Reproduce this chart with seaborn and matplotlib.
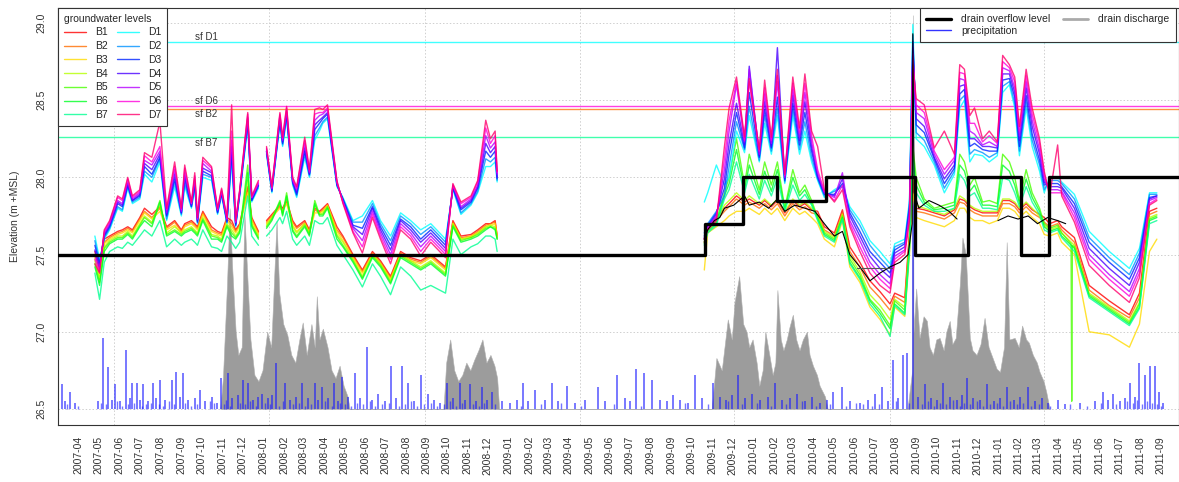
import numpy as np
import pandas as pd
import matplotlib
matplotlib.use("Agg")
import matplotlib.pyplot as plt
from matplotlib.lines import Line2D
import seaborn as sns

# ---------------- data ----------------
wells_B = ["B1", "B2", "B3", "B4", "B5", "B6", "B7"]
wells_D = ["D1", "D2", "D3", "D4", "D5", "D6", "D7"]

# manual measurements 2007-2008 (a gap around new year 2008)
p1_dates = ["2007-04-25","2007-05-02","2007-05-09","2007-05-17","2007-05-29","2007-06-05","2007-06-13","2007-06-20","2007-07-01","2007-07-08",
            "2007-07-19","2007-07-31","2007-08-10","2007-08-22","2007-09-01","2007-09-06","2007-09-16","2007-09-21","2007-09-25","2007-10-03",
            "2007-10-16","2007-10-25","2007-10-31","2007-11-08","2007-11-15","2007-11-21","2007-11-27","2007-12-09","2007-12-15","2007-12-25",
            "2008-01-06","2008-01-14","2008-01-26","2008-01-30","2008-02-05","2008-02-14","2008-02-20","2008-03-03","2008-03-10","2008-03-18",
            "2008-03-25","2008-03-30","2008-04-06","2008-04-20","2008-04-29","2008-05-14","2008-05-28","2008-06-12","2008-06-24","2008-07-09",
            "2008-07-24","2008-08-08","2008-08-23","2008-09-07","2008-09-29","2008-10-10","2008-10-22","2008-11-06","2008-11-16","2008-11-28",
            "2008-12-05","2008-12-12","2008-12-15"]
p1_break_after = 30

D1_p1 = [27.62,27.47,27.60,27.66,27.80,27.78,27.93,27.83,27.86,28.02, 27.97,28.10,27.72,27.94,27.75,27.94,27.80,27.92,27.70,28.00,
         27.98,27.76,27.88,27.70,28.10,27.68,27.88,28.33,27.84,27.93, 28.15,27.90,28.35,28.20,28.38,27.95,27.87,28.13,28.00,28.24,
         28.30,28.35,28.38,27.94,27.87,27.72,27.75,27.85,27.72,27.62, 27.77,27.72,27.66,27.70,27.60,27.92,27.76,27.82,27.90,28.07,
         28.07,28.10,27.97]
D2_p1 = [27.59,27.45,27.61,27.67,27.81,27.79,27.94,27.84,27.87,28.04, 28.00,28.12,27.73,27.97,27.76,27.96,27.81,27.94,27.71,28.02,
         28.00,27.77,27.89,27.71,28.13,27.69,27.89,28.35,27.85,27.94, 28.16,27.91,28.36,28.21,28.39,27.96,27.88,28.15,28.01,28.27,
         28.32,28.36,28.39,27.95,27.86,27.71,27.71,27.83,27.70,27.59, 27.75,27.70,27.63,27.68,27.58,27.93,27.77,27.83,27.91,28.12,
         28.10,28.13,27.98]
D3_p1 = [27.56,27.44,27.62,27.68,27.83,27.81,27.95,27.85,27.88,28.07, 28.02,28.13,27.75,27.99,27.77,27.99,27.81,27.96,27.71,28.04,
         28.01,27.77,27.90,27.71,28.16,27.69,27.89,28.36,27.85,27.95, 28.17,27.91,28.37,28.22,28.41,27.97,27.89,28.17,28.02,28.31,
         28.35,28.38,28.41,27.95,27.86,27.69,27.67,27.81,27.68,27.56, 27.73,27.68,27.60,27.66,27.56,27.93,27.79,27.84,27.93,28.17,
         28.13,28.17,27.99]
D4_p1 = [27.53,27.42,27.63,27.69,27.84,27.82,27.96,27.85,27.89,28.09, 28.05,28.15,27.76,28.02,27.77,28.01,27.82,27.97,27.72,28.06,
         28.03,27.78,27.90,27.72,28.20,27.70,27.90,28.38,27.86,27.95, 28.17,27.92,28.38,28.23,28.42,27.97,27.90,28.19,28.02,28.34,
         28.37,28.39,28.42,27.96,27.85,27.68,27.63,27.80,27.66,27.53, 27.72,27.66,27.58,27.64,27.54,27.94,27.80,27.85,27.94,28.22,
         28.16,28.20,28.00]
D5_p1 = [27.50,27.41,27.64,27.70,27.85,27.83,27.97,27.86,27.90,28.11, 28.08,28.17,27.77,28.05,27.78,28.03,27.83,27.99,27.73,28.09,
         28.04,27.79,27.91,27.73,28.24,27.71,27.91,28.39,27.87,27.96, 28.18,27.93,28.40,28.24,28.43,27.98,27.92,28.22,28.03,28.37,
         28.40,28.41,28.44,27.97,27.84,27.67,27.59,27.78,27.64,27.50, 27.70,27.64,27.55,27.62,27.52,27.95,27.81,27.86,27.95,28.27,
         28.19,28.23,28.02]
D6_p1 = [27.47,27.39,27.65,27.71,27.87,27.85,27.99,27.87,27.91,28.14, 28.10,28.20,27.79,28.07,27.79,28.06,27.83,28.01,27.73,28.11,
         28.06,27.79,27.92,27.73,28.30,27.71,27.91,28.41,27.87,27.97, 28.19,27.93,28.41,28.25,28.45,27.99,27.93,28.24,28.04,28.41,
         28.42,28.42,28.45,27.97,27.84,27.65,27.55,27.76,27.62,27.47, 27.68,27.62,27.52,27.60,27.50,27.95,27.83,27.87,27.97,28.32,
         28.22,28.27,28.03]
D7_p1 = [27.44,27.38,27.66,27.72,27.88,27.86,28.00,27.88,27.92,28.16, 28.13,28.36,27.80,28.10,27.80,28.08,27.84,28.03,27.74,28.13,
         28.07,27.80,27.93,27.74,28.47,27.72,27.92,28.42,27.88,27.98, 28.20,27.94,28.42,28.26,28.46,28.00,27.94,28.26,28.05,28.44,
         28.45,28.44,28.47,27.98,27.83,27.64,27.51,27.74,27.60,27.44, 27.66,27.60,27.49,27.58,27.48,27.96,27.84,27.88,27.98,28.37,
         28.25,28.30,28.04]
B1_p1 = [27.52,27.40,27.60,27.62,27.65,27.66,27.68,27.66,27.74,27.80, 27.76,27.81,27.68,27.72,27.66,27.70,27.72,27.70,27.68,27.78,
         27.68,27.65,27.64,27.74,27.72,27.66,27.70,27.94,27.74,27.65, 27.72,27.76,27.82,27.80,27.85,27.72,27.68,27.72,27.66,27.80,
         27.78,27.80,27.83,27.68,27.62,27.50,27.40,27.52,27.46,27.36, 27.52,27.48,27.46,27.50,27.42,27.72,27.62,27.63,27.66,27.70,
         27.70,27.72,27.62]
B2_p1 = [27.50,27.38,27.58,27.61,27.64,27.65,27.67,27.65,27.73,27.78, 27.74,27.80,27.67,27.71,27.65,27.69,27.71,27.69,27.67,27.77,
         27.66,27.64,27.63,27.73,27.70,27.65,27.69,27.92,27.73,27.64, 27.71,27.75,27.81,27.79,27.84,27.71,27.67,27.71,27.65,27.79,
         27.77,27.79,27.82,27.66,27.61,27.49,27.39,27.51,27.45,27.35, 27.51,27.47,27.45,27.49,27.41,27.71,27.61,27.62,27.65,27.69,
         27.70,27.71,27.62]
B3_p1 = [27.48,27.36,27.57,27.60,27.63,27.64,27.66,27.64,27.72,27.77, 27.73,27.78,27.66,27.69,27.64,27.68,27.70,27.68,27.66,27.76,
         27.65,27.63,27.62,27.72,27.68,27.64,27.68,27.90,27.72,27.63, 27.70,27.74,27.80,27.78,27.83,27.69,27.65,27.70,27.64,27.77,
         27.77,27.78,27.82,27.65,27.59,27.48,27.38,27.50,27.44,27.34, 27.50,27.46,27.44,27.48,27.40,27.70,27.60,27.62,27.64,27.68,
         27.69,27.70,27.61]
B4_p1 = [27.46,27.34,27.55,27.59,27.62,27.62,27.65,27.62,27.70,27.75, 27.71,27.82,27.64,27.68,27.64,27.66,27.68,27.66,27.64,27.74,
         27.63,27.62,27.60,27.70,27.66,27.62,27.66,27.98,27.70,27.62, 27.69,27.74,27.83,27.77,27.87,27.68,27.64,27.70,27.64,27.82,
         27.76,27.77,27.81,27.63,27.58,27.47,27.36,27.50,27.44,27.33, 27.50,27.46,27.42,27.46,27.38,27.70,27.60,27.61,27.64,27.68,
         27.69,27.68,27.61]
B5_p1 = [27.44,27.32,27.54,27.58,27.61,27.61,27.64,27.61,27.69,27.74, 27.70,27.85,27.63,27.66,27.63,27.65,27.67,27.65,27.63,27.73,
         27.62,27.61,27.59,27.69,27.64,27.61,27.65,28.08,27.69,27.61, 27.68,27.73,27.85,27.76,27.90,27.66,27.62,27.69,27.63,27.85,
         27.76,27.76,27.81,27.62,27.56,27.46,27.35,27.49,27.43,27.32, 27.49,27.45,27.41,27.45,27.37,27.69,27.59,27.61,27.63,27.67,
         27.68,27.67,27.60]
B6_p1 = [27.42,27.30,27.52,27.57,27.60,27.60,27.63,27.60,27.68,27.72, 27.68,27.84,27.62,27.65,27.62,27.64,27.66,27.64,27.62,27.72,
         27.60,27.60,27.58,27.68,27.62,27.60,27.64,28.03,27.68,27.60, 27.67,27.72,27.84,27.75,27.88,27.65,27.61,27.68,27.62,27.83,
         27.75,27.75,27.80,27.60,27.55,27.45,27.34,27.48,27.42,27.31, 27.48,27.44,27.40,27.44,27.36,27.68,27.58,27.60,27.62,27.66,
         27.68,27.66,27.60]
B7_p1 = [27.38,27.21,27.45,27.52,27.55,27.54,27.58,27.56,27.62,27.66, 27.62,27.72,27.55,27.60,27.56,27.58,27.60,27.58,27.56,27.66,
         27.55,27.54,27.52,27.62,27.58,27.54,27.58,27.88,27.62,27.56, 27.62,27.66,27.74,27.70,27.78,27.60,27.56,27.62,27.56,27.72,
         27.70,27.70,27.74,27.56,27.50,27.40,27.29,27.44,27.36,27.24, 27.42,27.36,27.27,27.30,27.25,27.60,27.50,27.55,27.57,27.62,
         27.62,27.60,27.52]

# logger period 2009-2011
p2_dates = ["2009-10-20","2009-10-25","2009-11-07","2009-11-19","2009-11-26","2009-12-07","2009-12-19","2009-12-26","2010-01-10","2010-01-18",
            "2010-01-28","2010-02-06","2010-02-17","2010-03-01","2010-03-11","2010-03-19","2010-03-29","2010-04-07","2010-04-17","2010-05-02",
            "2010-05-14","2010-05-25","2010-06-09","2010-06-24","2010-07-09","2010-07-24","2010-07-31","2010-08-15","2010-08-22","2010-08-27",
            "2010-09-01","2010-09-13","2010-09-28","2010-10-13","2010-10-28","2010-11-05","2010-11-12","2010-11-20","2010-11-27","2010-12-09",
            "2010-12-19","2010-12-31","2011-01-08","2011-01-18","2011-01-26","2011-02-02","2011-02-12","2011-02-21","2011-03-04","2011-03-11",
            "2011-03-19","2011-03-31","2011-04-06","2011-04-25","2011-05-17","2011-06-16","2011-07-16","2011-07-31","2011-08-15","2011-08-26"]

D1_p2 = [27.84,27.90,28.08,27.95,28.00,28.30,28.16,28.40,28.10,28.35, 28.15,28.40,27.96,28.40,28.15,28.30,28.10,27.98,27.87,27.92,
         27.95,27.81,27.72,27.59,27.52,27.44,27.57,27.60,27.85,28.99, 28.25,28.20,28.08,27.90,28.02,28.45,28.50,28.10,28.15,28.14,
         28.10,28.14,28.55,28.60,28.45,28.14,28.45,28.20,28.04,27.90, 28.00,28.00,27.97,27.89,27.65,27.52,27.41,27.54,27.90,27.90]
D2_p2 = [27.64,27.70,27.78,27.88,28.07,28.36,28.18,28.46,28.11,28.40, 28.17,28.45,27.97,28.44,28.18,28.36,28.13,27.99,27.88,27.91,
         27.94,27.79,27.69,27.56,27.48,27.41,27.55,27.58,27.83,28.92, 28.29,28.24,28.10,27.93,28.04,28.50,28.53,28.15,28.18,28.16,
         28.13,28.16,28.59,28.62,28.48,28.17,28.49,28.24,28.08,27.92, 27.98,27.98,27.96,27.86,27.61,27.48,27.37,27.51,27.89,27.89]
D3_p2 = [27.62,27.69,27.77,27.93,28.15,28.42,28.19,28.55,28.13,28.44, 28.19,28.52,27.98,28.48,28.21,28.42,28.17,28.00,27.89,27.89,
         27.96,27.77,27.65,27.52,27.45,27.38,27.53,27.57,27.81,28.88, 28.34,28.29,28.12,27.96,28.06,28.54,28.57,28.20,28.22,28.18,
         28.17,28.17,28.63,28.64,28.52,28.20,28.53,28.28,28.11,27.95, 27.96,27.96,27.94,27.83,27.58,27.45,27.34,27.48,27.87,27.88]
D4_p2 = [27.61,27.68,27.76,27.99,28.22,28.48,28.21,28.72,28.14,28.49, 28.20,28.84,27.99,28.53,28.24,28.49,28.20,28.01,27.90,27.88,
         27.99,27.75,27.62,27.49,27.41,27.35,27.51,27.55,27.79,28.84, 28.38,28.33,28.13,27.99,28.08,28.59,28.60,28.25,28.25,28.20,
         28.20,28.19,28.67,28.67,28.55,28.24,28.58,28.33,28.15,27.97, 27.94,27.94,27.93,27.80,27.54,27.41,27.30,27.45,27.86,27.88]
D5_p2 = [27.60,27.67,27.75,28.05,28.30,28.60,28.23,28.70,28.15,28.54, 28.22,28.62,28.00,28.57,28.26,28.55,28.23,28.03,27.90,27.87,
         28.03,27.72,27.59,27.45,27.37,27.31,27.49,27.53,27.76,28.80, 28.42,28.38,28.15,28.02,28.11,28.64,28.63,28.30,28.28,28.21,
         28.23,28.20,28.71,28.69,28.58,28.27,28.62,28.37,28.18,27.99, 27.92,27.92,27.91,27.77,27.50,27.37,27.26,27.41,27.85,27.87]
D6_p2 = [27.60,27.67,27.73,28.12,28.37,28.62,28.24,28.62,28.17,28.58, 28.24,28.66,28.01,28.61,28.29,28.61,28.27,28.05,27.91,27.85,
         27.95,27.70,27.55,27.42,27.34,27.28,27.47,27.52,27.74,28.76, 28.47,28.42,28.17,28.05,28.13,28.68,28.67,28.35,28.35,28.23,
         28.27,28.22,28.75,28.71,28.62,28.30,28.66,28.41,28.22,28.02, 27.90,27.90,27.90,27.74,27.47,27.34,27.23,27.38,27.83,27.86]
D7_p2 = [27.58,27.66,27.72,28.20,28.45,28.65,28.26,28.64,28.18,28.63, 28.26,28.70,28.02,28.65,28.32,28.67,28.30,28.20,27.92,27.84,
         27.92,27.68,27.52,27.38,27.30,27.25,27.45,27.50,27.72,28.73, 28.51,28.47,28.19,28.30,28.15,28.73,28.70,28.40,28.45,28.25,
         28.30,28.23,28.79,28.73,28.65,28.33,28.70,28.45,28.25,28.04, 27.88,28.21,27.88,27.71,27.43,27.30,27.19,27.35,27.82,27.85]
B1_p2 = [27.60,27.68,27.74,27.80,27.83,27.88,27.84,27.86,27.82,27.85, 27.81,27.85,27.77,27.85,27.81,27.83,27.79,27.78,27.68,27.64,
         27.79,27.55,27.45,27.33,27.26,27.18,27.25,27.22,27.65,28.00, 27.80,27.79,27.77,27.75,27.79,27.86,27.85,27.81,27.79,27.77,
         27.77,27.77,27.85,27.85,27.83,27.79,27.83,27.79,27.76,27.74, 27.70,27.72,27.68,27.61,27.30,27.20,27.11,27.25,27.78,27.80]
B2_p2 = [27.60,27.67,27.72,27.78,27.81,27.86,27.82,27.84,27.80,27.83, 27.79,27.83,27.75,27.83,27.79,27.81,27.77,27.76,27.66,27.62,
         27.77,27.52,27.42,27.29,27.22,27.14,27.23,27.19,27.62,27.95, 27.78,27.77,27.75,27.73,27.77,27.84,27.83,27.79,27.77,27.75,
         27.75,27.75,27.83,27.83,27.81,27.77,27.81,27.77,27.74,27.71, 27.68,27.70,27.66,27.58,27.27,27.17,27.09,27.22,27.76,27.78]
B3_p2 = [27.40,27.64,27.68,27.72,27.75,27.78,27.78,27.80,27.76,27.80, 27.76,27.80,27.72,27.80,27.76,27.78,27.74,27.70,27.60,27.55,
         27.72,27.42,27.32,27.16,27.08,26.98,27.16,27.10,27.50,27.90, 27.74,27.72,27.70,27.68,27.72,27.80,27.80,27.74,27.72,27.72,
         27.70,27.72,27.80,27.80,27.78,27.74,27.78,27.74,27.70,27.63, 27.62,27.64,27.58,27.50,27.00,26.98,26.90,27.05,27.52,27.60]
B4_p2 = [27.58,27.66,27.71,27.82,27.85,27.90,27.85,27.88,27.83,27.86, 27.82,27.86,27.78,27.86,27.82,27.84,27.80,27.75,27.65,27.61,
         27.76,27.49,27.39,27.24,27.17,27.08,27.21,27.16,27.59,28.05, 27.82,27.80,27.78,27.76,27.80,27.88,27.86,27.82,27.80,27.78,
         27.78,27.78,27.86,27.86,27.84,27.80,27.84,27.80,27.75,27.69, 27.66,27.68,27.64,27.56,27.25,27.16,27.07,27.19,27.74,27.76]
B5_p2 = [27.58,27.66,27.72,27.90,28.00,28.25,27.95,28.15,27.92,28.10, 27.95,28.10,27.80,28.05,27.90,27.95,27.85,27.74,27.64,27.60,
         27.75,27.47,27.37,27.21,27.14,27.04,27.20,27.14,27.57,28.20, 28.00,27.86,27.80,27.82,27.84,28.15,28.10,27.95,28.00,27.84,
         27.85,27.83,28.15,28.10,28.00,27.85,28.05,27.90,27.80,27.70, 27.67,27.69,27.64,27.55,27.24,27.15,27.06,27.18,27.73,27.75]
B6_p2 = [27.57,27.65,27.70,27.88,27.96,28.18,27.92,28.08,27.89,28.04, 27.91,28.05,27.79,28.00,27.88,27.92,27.83,27.73,27.63,27.59,
         27.74,27.45,27.35,27.20,27.12,27.02,27.18,27.12,27.55,28.15, 27.95,27.84,27.79,27.80,27.82,28.08,28.04,27.91,27.95,27.82,
         27.82,27.81,28.08,28.04,27.95,27.83,27.99,27.87,27.78,27.68, 27.65,27.67,27.62,27.54,27.23,27.14,27.05,27.16,27.72,27.74]
B7_p2 = [27.56,27.64,27.69,27.86,27.92,28.10,27.90,28.02,27.86,27.98, 27.88,28.00,27.78,27.95,27.85,27.89,27.82,27.72,27.62,27.58,
         27.73,27.44,27.34,27.18,27.10,26.97,27.17,27.11,27.53,28.10, 27.90,27.82,27.78,27.78,27.80,28.02,27.98,27.88,27.90,27.80,
         27.80,27.79,28.00,27.98,27.90,27.81,27.94,27.84,27.76,27.66, 27.64,27.66,27.61,27.52,27.22,27.13,27.04,27.15,27.70,27.72]

# single-day drop of B5 in April 2011
b5_drop_dates = ["2011-04-20", "2011-04-21", "2011-04-22"]
b5_drop_vals = [27.57, 26.55, 27.56]

# unlabelled thin black series
black_dates = ["2009-10-20","2009-10-25","2009-11-04","2009-11-12","2009-11-19","2009-12-03","2009-12-19","2009-12-26","2010-01-10","2010-01-24",
               "2010-02-06","2010-02-17","2010-03-04","2010-03-19","2010-04-03","2010-04-17","2010-05-02","2010-05-14","2010-05-25","2010-06-09",
               "2010-06-24","2010-07-09","2010-07-24","2010-08-08","2010-08-20","2010-08-26","2010-08-27","2010-08-29","2010-09-05","2010-09-20",
               "2010-10-05","2010-10-20","2010-11-01","2010-12-01","2011-01-01","2011-01-16","2011-01-31","2011-02-15","2011-03-01","2011-03-16",
               "2011-03-31","2011-04-12"]
black_vals = [27.60,27.66,27.72,27.74,27.80,27.82,27.88,27.82,27.84,27.80, 27.86,27.78,27.82,27.80,27.78,27.70,27.62,27.65,27.50,27.42,
              27.33,27.38,27.42,27.45,27.50,27.70,28.93,27.90,27.80,27.85, 27.82,27.78,27.73,np.nan,27.72,27.75,27.73,27.75,27.70,27.74,
              27.72,27.70]
black_flat_dates = ["2010-06-05", "2010-07-27"]
black_flat_vals = [27.41, 27.41]

# drain overflow level (steps)
overflow_dates = ["2007-03-01","2009-10-21","2009-12-16","2010-02-05","2010-04-19","2010-08-30","2010-11-17","2011-02-04","2011-03-18","2011-09-30"]
overflow_level = [27.50, 27.70, 28.00, 27.85, 28.00, 27.50, 28.00, 27.50, 28.00, 28.00]

# drain discharge (plotted on elevation axis)
discharge_dates = ["2007-10-29","2007-11-02","2007-11-08","2007-11-12","2007-11-16","2007-11-21","2007-11-25","2007-11-30","2007-12-04","2007-12-09",
                   "2007-12-13","2007-12-19","2007-12-25","2007-12-31","2008-01-07","2008-01-13","2008-01-21","2008-01-25","2008-01-31","2008-02-06",
                   "2008-02-12","2008-02-18","2008-02-24","2008-02-29","2008-03-06","2008-03-13","2008-03-18","2008-03-21","2008-03-25","2008-03-30",
                   "2008-04-06","2008-04-12","2008-04-18","2008-04-24","2008-04-30","2008-05-06","2008-05-09",
                   "2008-09-26","2008-09-30","2008-10-06","2008-10-12","2008-10-18","2008-10-24","2008-10-30","2008-11-05","2008-11-11","2008-11-17",
                   "2008-11-23","2008-11-29","2008-12-05","2008-12-11","2008-12-15","2008-12-18",
                   "2009-10-31","2009-11-07","2009-11-15","2009-11-24","2009-11-30","2009-12-04","2009-12-11","2009-12-17","2009-12-22","2009-12-26",
                   "2009-12-31","2010-01-06","2010-01-10","2010-01-15","2010-01-19","2010-01-25","2010-01-30","2010-02-03","2010-02-06","2010-02-11",
                   "2010-02-15","2010-02-20","2010-02-24","2010-03-01","2010-03-06","2010-03-11","2010-03-16","2010-03-22","2010-03-26","2010-03-31",
                   "2010-04-06","2010-04-10","2010-04-18","2010-04-22",
                   "2010-08-19","2010-08-26","2010-08-27","2010-08-28","2010-09-01","2010-09-06","2010-09-12","2010-09-17","2010-09-21","2010-09-26",
                   "2010-10-01","2010-10-06","2010-10-12","2010-10-16","2010-10-21","2010-10-25","2010-10-30","2010-11-05","2010-11-09","2010-11-14",
                   "2010-11-20","2010-11-24","2010-11-30","2010-12-06","2010-12-12","2010-12-18","2010-12-24","2010-12-30","2011-01-04","2011-01-10",
                   "2011-01-14","2011-01-18","2011-01-26","2011-02-01","2011-02-06","2011-02-12","2011-02-16","2011-02-22","2011-02-28","2011-03-04",
                   "2011-03-10","2011-03-14","2011-03-19"]
discharge_top = [26.50,26.70,27.30,27.80,27.40,27.00,26.85,26.90,27.77,27.30, 26.95,26.72,26.68,26.75,27.00,26.90,27.72,27.25,27.05,26.98,
                 26.85,26.80,26.95,27.06,26.85,27.05,26.90,27.23,26.95,27.02, 26.90,26.75,26.70,26.78,26.65,26.58,26.50,
                 26.50,26.80,26.95,26.75,26.68,26.72,26.80,26.75,26.82,26.88, 26.95,26.80,26.85,26.78,26.70,26.50,
                 26.50,26.83,26.75,27.08,26.95,27.19,27.36,27.05,27.00,26.90, 26.95,26.80,26.65,26.75,27.00,26.85,26.72,26.80,27.27,26.95,
                 26.88,26.95,27.03,27.11,26.95,26.88,26.95,27.00,26.85,26.78, 26.72,26.65,26.58,26.50,
                 26.50,26.75,29.05,27.00,27.28,26.96,27.10,27.07,26.90,26.85, 26.95,26.96,26.88,27.00,27.07,26.92,26.96,27.30,27.61,27.50,
                 26.96,26.88,26.85,26.92,27.09,26.90,26.83,26.76,26.74,26.90, 27.58,26.95,26.96,26.90,27.04,26.95,26.93,26.85,26.80,26.74,
                 26.68,26.61,26.50]

# precipitation events: day number since 2007-03-01 and bar height (axis units above the 26.5 base)
precip_day = [0,6,10,18,25,60,67,75,81,85, 92,101,107,110,118,122,127,134,142,146, 152,160,170,176,182,186,194,204,212,219,
              230,237,243,254,260,268,276,283,291,298, 304,313,319,325,339,346,355,364,373,383, 388,394,403,412,418,424,432,443,450,461,
              468,477,488,497,504,513,522,531,541,552, 561,570,580,589,600,607,614,623,632,640, 647,662,674,685,694,701,711,726,737,746,
              759,771,786,805,816,834,846,853,862,874, 886,898,908,917,928,940,950,960,977,987, 996,1005,1014,1025,1035,1047,1059,1069,1080,1092,
              1102,1114,1125,1136,1147,1156,1169,1181,1196,1208, 1218,1229,1238,1245,1253,1260,1266,1275,1283,1293, 1302,1311,1320,1330,1341,1348,1356,1365,1375,1385,
              1396,1405,1415,1426,1435,1447,1457,1468,1476,1491, 1502,1524,1547,1559,1566,1573,1584,1591,1599,1606, 1613,1621,1629,1636,1642,1648]
precip_h = [0.21,0.16,0.05,0.11,0.04,0.05,0.46,0.27,0.06,0.16, 0.05,0.38,0.07,0.17,0.17,0.06,0.16,0.05,0.17,0.07, 0.19,0.06,0.19,0.24,0.08,0.23,0.06,0.07,0.12,0.05,
            0.08,0.04,0.20,0.23,0.07,0.09,0.19,0.17,0.06,0.08, 0.10,0.07,0.09,0.30,0.17,0.06,0.08,0.17,0.07,0.17, 0.06,0.14,0.07,0.17,0.05,0.21,0.08,0.23,0.07,0.40,
            0.06,0.10,0.05,0.28,0.07,0.28,0.17,0.05,0.22,0.10, 0.06,0.04,0.17,0.07,0.17,0.06,0.16,0.05,0.14,0.06, 0.11,0.05,0.04,0.06,0.17,0.05,0.12,0.06,0.17,0.05,
            0.15,0.04,0.06,0.14,0.05,0.22,0.07,0.05,0.26,0.23, 0.19,0.06,0.05,0.09,0.06,0.04,0.22,0.07,0.17,0.08, 0.06,0.09,0.22,0.07,0.10,0.06,0.08,0.17,0.06,0.07,
            0.10,0.05,0.08,0.04,0.06,0.11,0.14,0.05,0.04,0.06, 0.10,0.14,0.05,0.32,0.07,0.35,0.36,2.25,0.08,0.16, 0.07,0.06,0.17,0.08,0.06,0.09,0.20,0.07,0.06,0.16,
            0.05,0.07,0.14,0.06,0.08,0.14,0.05,0.07,0.04,0.06, 0.03,0.04,0.05,0.11,0.06,0.10,0.05,0.07,0.17,0.08, 0.30,0.22,0.28,0.28,0.11,0.04]
# many small daily totals near the base
precip_small_day = [13,30,64,71,88,96,104,114,125,131, 138,150,156,165,173,190,199,208,226,233, 247,250,257,272,279,287,295,309,316,330,
                    335,350,360,369,378,398,408,420,428,437, 446,455,465,473,483,493,509,517,527,536, 546,557,565,575,585,594,603,619,628,636,
                    652,690,720,750,780,830,870,935,970,1000, 1020,1042,1064,1086,1110,1130,1152,1175,1190,1201, 1214,1225,1250,1270,1288,1298,1307,1316,1325,1335,
                    1345,1352,1360,1370,1380,1390,1400,1410,1420,1430, 1440,1452,1463,1480,1510,1535,1555,1578,1595,1603, 1610,1617,1625,1632,1639,1645]
precip_small_h = [0.03,0.02,0.04,0.03,0.05,0.02,0.03,0.04,0.02,0.03, 0.04,0.03,0.02,0.05,0.03,0.04,0.02,0.03,0.05,0.04,
                  0.03,0.06,0.02,0.04,0.03,0.05,0.02,0.04,0.03,0.02, 0.05,0.03,0.04,0.02,0.03,0.05,0.02,0.04,0.03,0.02,
                  0.04,0.03,0.05,0.02,0.03,0.04,0.02,0.03,0.05,0.02, 0.03,0.04,0.02,0.03,0.05,0.02,0.04,0.03,0.02,0.04,
                  0.03,0.02,0.03,0.04,0.02,0.03,0.02,0.04,0.03,0.05, 0.03,0.04,0.02,0.03,0.05,0.02,0.03,0.02,0.04,0.03,
                  0.02,0.03,0.05,0.04,0.03,0.05,0.02,0.04,0.03,0.06, 0.02,0.04,0.03,0.05,0.02,0.03,0.04,0.02,0.05,0.03,
                  0.04,0.02,0.03,0.02,0.03,0.02,0.04,0.03,0.05,0.04, 0.06,0.03,0.05,0.04,0.03,0.02]

# seepage-face reference levels
sf_names = ["sf D1", "sf D6", "sf B2", "sf B7"]
sf_levels = [28.875, 28.46, 28.445, 28.26]

# ---------------- build table ----------------
series_p1 = {"B1": B1_p1, "B2": B2_p1, "B3": B3_p1, "B4": B4_p1, "B5": B5_p1, "B6": B6_p1, "B7": B7_p1,
             "D1": D1_p1, "D2": D2_p1, "D3": D3_p1, "D4": D4_p1, "D5": D5_p1, "D6": D6_p1, "D7": D7_p1}
series_p2 = {"B1": B1_p2, "B2": B2_p2, "B3": B3_p2, "B4": B4_p2, "B5": B5_p2, "B6": B6_p2, "B7": B7_p2,
             "D1": D1_p2, "D2": D2_p2, "D3": D3_p2, "D4": D4_p2, "D5": D5_p2, "D6": D6_p2, "D7": D7_p2}
rows = []
for w in wells_B + wells_D:
    for i, (d, v) in enumerate(zip(p1_dates, series_p1[w])):
        rows.append((pd.Timestamp(d), v, w, "a" if i < p1_break_after else "b"))
    for d, v in zip(p2_dates, series_p2[w]):
        rows.append((pd.Timestamp(d), v, w, "c"))
for d, v in zip(b5_drop_dates, b5_drop_vals):
    rows.append((pd.Timestamp(d), v, "B5", "c"))
df = pd.DataFrame(rows, columns=["date", "level", "well", "seg"]).sort_values(["well", "seg", "date"])

# R rainbow(14)
rainbow = ["#FF0000", "#FF6D00", "#FFDB00", "#B6FF00", "#49FF00", "#00FF24", "#00FF92",
           "#00FFFF", "#0092FF", "#0024FF", "#4900FF", "#B600FF", "#FF00DB", "#FF006D"]
pal = dict(zip(wells_B + wells_D, rainbow))

# ---------------- plot ----------------
sns.set_theme(style="white")
plt.rcParams['font.family'] = ['Liberation Sans', 'DejaVu Sans']
plt.rcParams['axes.grid'] = False

W, H = 1179, 482
fig = plt.figure(figsize=(W / 100, H / 100), dpi=100)
ax = fig.add_axes([58 / W, 57 / H, 1121 / W, 417 / H])

x0, x1 = pd.Timestamp("2007-03-01"), pd.Timestamp("2011-09-28")

# discharge
dd = pd.to_datetime(discharge_dates)
ax.fill_between(dd, 26.5, discharge_top, color="#9c9c9c", lw=0.4, edgecolor="#b0b0b0", zorder=1)

# precipitation
pdates = x0 + pd.to_timedelta(precip_day, unit="D")
ax.vlines(pdates, 26.5, 26.5 + np.array(precip_h), color="#1a1aff", lw=1.1, alpha=0.75, zorder=2)
pdates2 = x0 + pd.to_timedelta(precip_small_day, unit="D")
ax.vlines(pdates2, 26.5, 26.5 + np.array(precip_small_h), color="#1a1aff", lw=1.0, alpha=0.6, zorder=2)

# seepage face lines
sf_colors = ["#00FFFF", "#FF00DB", "#FF6D00", "#00FF92"]
for lev, c in zip(sf_levels, sf_colors):
    ax.axhline(lev, color=c, lw=1.0, alpha=0.75, zorder=2.5)
lab_x = pd.Timestamp("2007-09-22")
for name, ty in zip(sf_names, [28.91, 28.495, 28.41, 28.22]):
    ax.text(lab_x, ty, name, fontsize=7, color="#333333", va="center", ha="left", zorder=6)

# groundwater wells
sns.lineplot(data=df, x="date", y="level", hue="well", units="seg", estimator=None,
             palette=pal, linewidth=1.0, alpha=0.8, legend=False, sort=True, ax=ax, zorder=3)

# black thin series
ax.plot(pd.to_datetime(black_dates), black_vals, color="black", lw=0.8, zorder=4)
ax.plot(pd.to_datetime(black_flat_dates), black_flat_vals, color="#555555", lw=0.8, zorder=4)

# overflow level
ax.step(pd.to_datetime(overflow_dates), overflow_level, where="post", color="black", lw=2.4, zorder=5)

ax.set_xlim(x0, x1)
ax.set_ylim(26.396, 29.097)
ax.grid(False)

# sparse dotted grid
for g in ["2007-05-24", "2008-01-10", "2008-08-29", "2009-04-17", "2009-12-04", "2010-07-24", "2011-03-11"]:
    ax.axvline(pd.Timestamp(g), color="#cfcfcf", lw=0.7, ls=(0, (1.5, 2)), zorder=0)
for yv in [26.5, 27.0, 27.5, 28.0, 28.5, 29.0]:
    ax.axhline(yv, color="#cfcfcf", lw=0.7, ls=(0, (1.5, 2)), zorder=0)

# axes styling
yt = [26.5, 27.0, 27.5, 28.0, 28.5, 29.0]
ax.set_yticks(yt)
ax.set_yticklabels([f"{v:.1f}" for v in yt], rotation=90, va="center", fontsize=7.5, color="#333333")
xt = pd.date_range("2007-04-01", "2011-09-01", freq="MS")
ax.set_xticks(xt)
ax.set_xticks([], minor=True)
ax.set_xticklabels([d.strftime("%Y-%m") for d in xt], rotation=90, fontsize=7.5, color="#333333")
ax.tick_params(axis="both", which="major", length=5, width=0.8, color="#666666", direction="out", pad=3)
ax.set_xlabel("")
ax.set_ylabel("Elevation (m +MSL)", fontsize=7.5, color="#333333", labelpad=12)
for s in ax.spines.values():
    s.set_color("#333333")
    s.set_linewidth(0.8)

# legends
h_wells = [Line2D([0], [0], color=pal[w], lw=1.0, alpha=0.8) for w in wells_B + wells_D]
leg1 = ax.legend(h_wells, wells_B + wells_D, ncol=2, title="groundwater levels", loc="upper left",
                 bbox_to_anchor=(0.0, 1.0), borderaxespad=0.0, fontsize=7.5, title_fontsize=7.5,
                 frameon=True, fancybox=False, edgecolor="#333333", framealpha=1.0,
                 handlelength=2.1, labelspacing=0.36, columnspacing=0.9, handletextpad=0.9,
                 borderpad=0.55, alignment="left")
leg1.get_frame().set_linewidth(0.8)
leg1.set_zorder(10)
ax.add_artist(leg1)

h_other = [Line2D([0], [0], color="black", lw=2.4),
           Line2D([0], [0], color="#3333ff", lw=1.0),
           Line2D([0], [0], color="#aaaaaa", lw=2.0)]
leg2 = ax.legend(h_other, ["drain overflow level", "precipitation", "drain discharge"], ncol=2,
                 loc="upper right", bbox_to_anchor=(1 - 3 / 1121, 1.0), borderaxespad=0.0, fontsize=7.5,
                 frameon=True, fancybox=False, edgecolor="#333333", framealpha=1.0,
                 handlelength=2.4, labelspacing=0.15, columnspacing=1.2, handletextpad=1.0, borderpad=0.6)
leg2.get_frame().set_linewidth(0.8)
leg2.set_zorder(10)

fig.savefig("out.png", dpi=100)
